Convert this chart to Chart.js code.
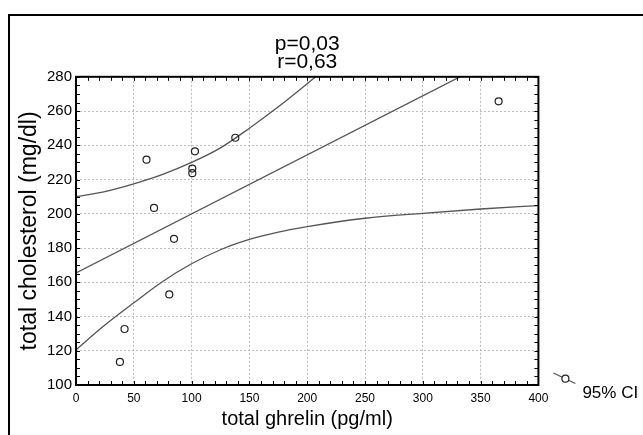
<!DOCTYPE html>
<html>
<head>
<meta charset="utf-8">
<script src="https://cdn.jsdelivr.net/npm/chart.js@4.4.0/dist/chart.umd.min.js"></script>
<style>
  html, body { margin: 0; padding: 0; background: #fff; overflow: hidden; }
  #wrap { position: relative; width: 643px; height: 435px; overflow: hidden; }
  #frame { position: absolute; left: 8px; top: 14px; width: 700px; height: 500px; border: 2px solid #000; }
  #chart { position: absolute; left: 0; top: 0; }
</style>
</head>
<body>
<div id="wrap">
  <div id="frame"></div>
  <canvas id="chart" width="643" height="435"></canvas>
</div>
<script>
// measured points
const ghrelin = [38, 42, 61, 67.5, 80.7, 84.8, 100.6, 100.6, 102.9, 137.8, 365.6];
const cholesterol = [113.5, 132.7, 231.6, 203.4, 152.9, 185.4, 226.4, 223.7, 236.5, 244.4, 265.7];

// regression line and 95% CI curves
const fitX = [0, 400];
const fitY = [165.4, 303.4];
const upperX = [0, 25, 50, 75, 100, 125, 150, 175, 200, 225, 250];
const upperY = [210, 213, 217.5, 223, 230, 238.5, 250, 262.5, 276, 290, 305];
const lowerX = [0, 25, 50, 75, 100, 125, 150, 175, 200, 250, 300, 350, 400];
const lowerY = [120.6, 135, 148, 160.5, 170.8, 179, 185, 189.3, 192.5, 197.4, 200.3, 202.8, 204.8];

const xTicks = [0, 50, 100, 150, 200, 250, 300, 350, 400];
const yTicks = [100, 120, 140, 160, 180, 200, 220, 240, 260, 280];
const titleLines = ["p=0,03", "r=0,63"];
const legendLabel = "95% CI";

const FONT = "'Liberation Sans', Arial, sans-serif";
const LINE = "#555";

function toPoints(xs, ys) {
  return xs.map((x, i) => ({ x, y: ys[i] }));
}

const frameAndTicks = {
  id: "frameAndTicks",
  afterDatasetsDraw(chart) {
    const { ctx, chartArea: a, scales: { x, y } } = chart;
    ctx.save();
    ctx.strokeStyle = "#000";
    ctx.lineWidth = 1;
    ctx.beginPath();
    for (let v = xTicks[0]; v <= xTicks[xTicks.length - 1]; v += 10) {
      const px = Math.round(x.getPixelForValue(v)) + 0.5;
      ctx.moveTo(px, a.bottom);
      ctx.lineTo(px, a.bottom - 4);
      ctx.moveTo(px, a.top);
      ctx.lineTo(px, a.top + 4);
    }
    for (let v = yTicks[0]; v <= yTicks[yTicks.length - 1]; v += 5) {
      const py = Math.round(y.getPixelForValue(v)) + 0.5;
      ctx.moveTo(a.left, py);
      ctx.lineTo(a.left + 4, py);
      ctx.moveTo(a.right, py);
      ctx.lineTo(a.right - 4, py);
    }
    ctx.stroke();
    ctx.lineWidth = 2;
    ctx.strokeRect(a.left, a.top, a.right - a.left, a.bottom - a.top);
    ctx.restore();
  },
  afterDraw(chart) {
    const { ctx, chartArea: a } = chart;
    const lx = a.right + 15;
    const ly = a.bottom - 12;
    ctx.save();
    ctx.strokeStyle = LINE;
    ctx.lineWidth = 1.3;
    ctx.beginPath();
    ctx.moveTo(lx, ly);
    ctx.lineTo(lx + 22, ly + 10.5);
    ctx.stroke();
    ctx.beginPath();
    ctx.arc(lx + 12, ly + 5.7, 3.5, 0, Math.PI * 2);
    ctx.fillStyle = "#fff";
    ctx.fill();
    ctx.strokeStyle = "#222";
    ctx.lineWidth = 1.2;
    ctx.stroke();
    ctx.fillStyle = "#000";
    ctx.font = "17px " + FONT;
    ctx.textBaseline = "alphabetic";
    ctx.fillText(legendLabel, lx + 29, ly + 25);
    ctx.restore();
  },
};

new Chart(document.getElementById("chart"), {
  type: "scatter",
  data: {
    datasets: [
      {
        data: toPoints(ghrelin, cholesterol),
        pointStyle: "circle",
        pointRadius: 3.5,
        pointBorderWidth: 1.2,
        pointBorderColor: "#222",
        pointBackgroundColor: "rgba(255,255,255,0)",
      },
      {
        data: toPoints(fitX, fitY),
        showLine: true,
        borderColor: LINE,
        borderWidth: 1.3,
        pointRadius: 0,
      },
      {
        data: toPoints(upperX, upperY),
        showLine: true,
        cubicInterpolationMode: "monotone",
        borderColor: LINE,
        borderWidth: 1.3,
        pointRadius: 0,
      },
      {
        data: toPoints(lowerX, lowerY),
        showLine: true,
        cubicInterpolationMode: "monotone",
        borderColor: LINE,
        borderWidth: 1.3,
        pointRadius: 0,
      },
    ],
  },
  options: {
    responsive: false,
    animation: false,
    devicePixelRatio: 1,
    layout: { padding: { left: 0, right: 104.6, top: 6.7, bottom: 0 } },
    plugins: {
      legend: { display: false },
      tooltip: { enabled: false },
      title: {
        display: true,
        fullSize: false,
        text: titleLines,
        color: "#000",
        font: { family: FONT, size: 21, weight: "normal", lineHeight: 0.86 },
        padding: { top: 28, bottom: 6 },
      },
    },
    scales: {
      x: {
        type: "linear",
        min: 0,
        max: 400,
        afterBuildTicks: (s) => { s.ticks = xTicks.map((v) => ({ value: v })); },
        afterFit: (s) => { s.height = 50; },
        ticks: { color: "#000", font: { family: FONT, size: 12 }, padding: 6, autoSkip: false, maxRotation: 0 },
        grid: {
          color: (c) => (c.tick && (c.tick.value === 0 || c.tick.value === 400) ? "rgba(0,0,0,0)" : "#bcbcbc"),
          lineWidth: 1,
          drawTicks: false,
        },
        border: { display: false, dash: [2, 2] },
        title: {
          display: true,
          text: "total ghrelin (pg/ml)",
          color: "#000",
          font: { family: FONT, size: 20 },
          padding: { top: 0, bottom: 4 },
        },
      },
      y: {
        type: "linear",
        min: 100,
        max: 280,
        afterBuildTicks: (s) => { s.ticks = yTicks.map((v) => ({ value: v })); },
        afterFit: (s) => { s.width = 76; },
        ticks: { color: "#000", font: { family: FONT, size: 15 }, padding: 4, autoSkip: false },
        grid: {
          color: (c) => (c.tick && (c.tick.value === 100 || c.tick.value === 280) ? "rgba(0,0,0,0)" : "#bcbcbc"),
          lineWidth: 1,
          drawTicks: false,
        },
        border: { display: false, dash: [2, 2] },
        title: {
          display: true,
          text: "total cholesterol (mg/dl)",
          color: "#000",
          font: { family: FONT, size: 23 },
          padding: { top: 16, bottom: 0 },
        },
      },
    },
  },
  plugins: [frameAndTicks],
});
</script>
</body>
</html>
